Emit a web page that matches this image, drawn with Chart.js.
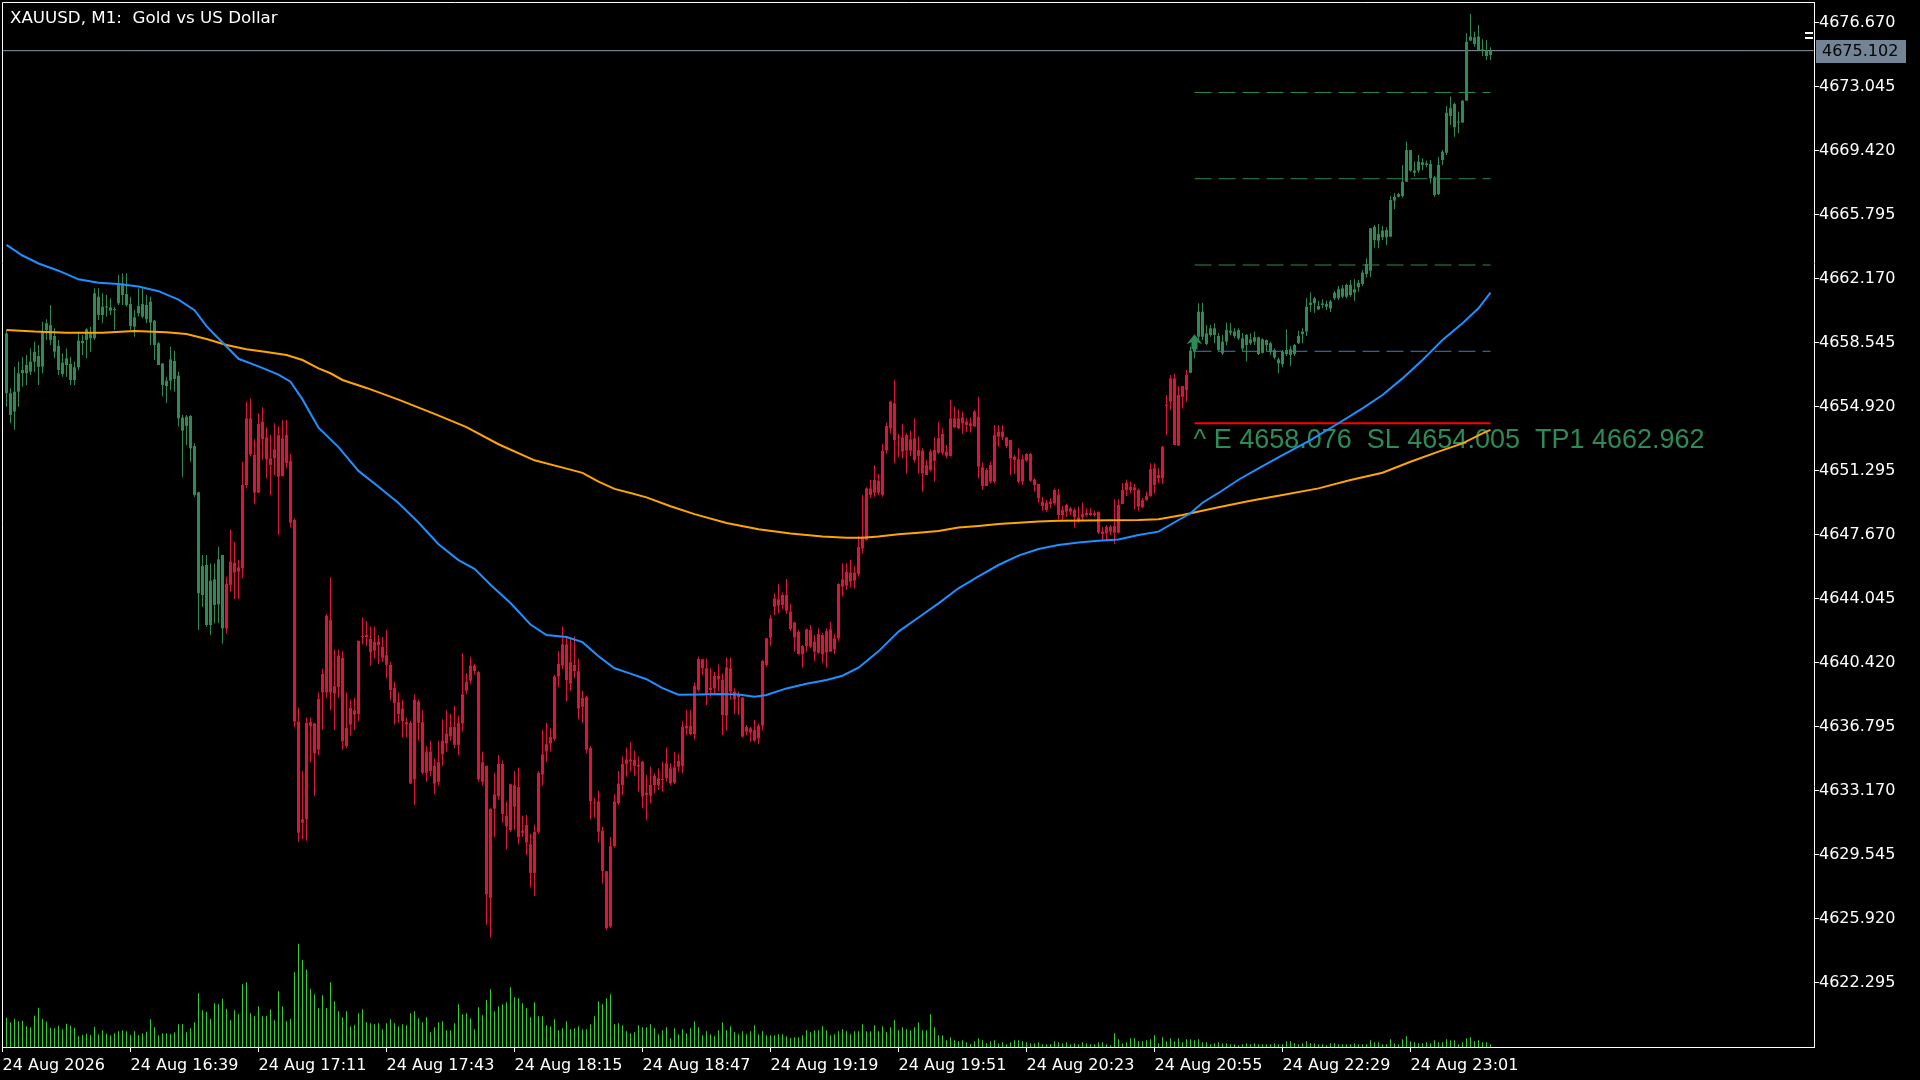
<!DOCTYPE html>
<html>
<head>
<meta charset="utf-8">
<title>XAUUSD, M1</title>
<script src="https://cdn.jsdelivr.net/npm/chart.js@4.4.1/dist/chart.umd.min.js"></script>
<style>
html,body{margin:0;padding:0;background:#000;overflow:hidden;}
#wrap{position:relative;width:1920px;height:1080px;}
</style>
</head>
<body>
<div id="wrap"><canvas id="xauChart"></canvas></div>
<script>
// ======================================
// XAUUSD M1 - CHART DATA
// ======================================

const chartTitle = "XAUUSD, M1:  Gold vs US Dollar";

const timeLabels = ["24 Aug 2026","24 Aug 16:39","24 Aug 17:11","24 Aug 17:43","24 Aug 18:15","24 Aug 18:47",
    "24 Aug 19:19","24 Aug 19:51","24 Aug 20:23","24 Aug 20:55","24 Aug 22:29","24 Aug 23:01"];
const timeLabelBars = [0,32,64,96,128,160,192,224,256,288,320,352];

const priceTicks = [4676.670,4673.045,4669.420,4665.795,4662.170,4658.545,4654.920,4651.295,
    4647.670,4644.045,4640.420,4636.795,4633.170,4629.545,4625.920,4622.295];

const openP = [
4659.09,4655.70,4654.66,4655.79,4656.83,4656.83,4656.92,4657.49,4657.81,4657.20,
4659.28,4659.56,4658.94,4658.38,4656.79,4657.30,4657.36,4656.45,4657.17,4658.53,
4658.72,4659.09,4658.81,4661.17,4660.13,4660.62,4660.56,4660.41,4660.79,4661.92,
4661.32,4660.75,4659.47,4660.23,4660.75,4659.89,4660.89,4659.81,4658.53,4657.39,
4656.11,4656.41,4657.53,4656.70,4654.32,4653.85,4654.41,4652.71,4650.09,4644.27,
4645.97,4642.57,4645.16,4643.74,4646.54,4642.38,4644.84,4646.10,4645.59,4645.78,
4650.50,4654.28,4652.20,4650.07,4654.09,4653.20,4652.01,4652.01,4650.97,4653.14,
4651.73,4651.86,4648.52,4637.10,4631.37,4631.57,4637.07,4637.00,4635.51,4638.75,
4638.75,4642.86,4638.69,4639.05,4640.71,4635.72,4636.93,4637.74,4637.53,4641.89,
4641.89,4641.78,4641.12,4641.44,4641.34,4640.87,4640.31,4639.01,4638.20,4637.84,
4637.07,4637.03,4633.83,4638.24,4637.07,4634.20,4635.41,4634.60,4633.69,4635.25,
4635.86,4636.26,4636.79,4635.78,4636.99,4638.85,4639.42,4640.27,4639.90,4633.69,
4634.60,4627.12,4632.17,4632.88,4634.70,4631.77,4630.96,4633.49,4633.39,4630.80,
4631.26,4630.15,4628.53,4630.86,4634.10,4635.41,4635.86,4636.12,4639.66,4640.27,
4641.48,4639.25,4640.31,4639.96,4637.94,4638.49,4635.61,4632.52,4632.58,4630.92,
4628.63,4625.50,4630.05,4632.48,4633.49,4634.70,4634.96,4634.59,4634.64,4634.83,
4632.94,4633.51,4633.51,4633.89,4633.80,4633.89,4634.45,4633.64,4634.55,4634.59,
4636.72,4636.87,4636.38,4638.89,4640.63,4640.12,4638.89,4638.98,4639.68,4639.46,
4637.44,4640.12,4638.80,4638.48,4638.46,4636.53,4636.72,4636.63,4636.15,4636.87,
4640.31,4641.85,4643.61,4644.03,4643.70,4644.27,4643.33,4642.72,4642.19,4640.91,
4641.38,4642.29,4641.63,4641.00,4642.00,4641.00,4642.33,4641.19,4641.82,4644.74,
4644.80,4645.54,4645.08,4645.46,4646.91,4647.39,4650.31,4650.07,4650.75,4649.94,
4652.45,4653.71,4655.13,4653.15,4653.20,4652.45,4653.09,4651.92,4652.49,4652.45,
4651.07,4651.35,4652.49,4652.33,4653.39,4652.39,4652.15,4654.28,4653.71,4654.33,
4653.90,4654.00,4653.81,4654.37,4651.50,4650.45,4651.63,4650.69,4653.24,4653.52,
4653.20,4653.05,4652.11,4651.96,4650.69,4651.88,4652.26,4650.82,4650.56,4649.56,
4649.09,4649.43,4649.46,4649.94,4648.80,4648.99,4649.18,4649.09,4648.67,4648.67,
4648.80,4648.93,4648.80,4648.99,4647.86,4647.76,4648.14,4647.80,4647.80,4649.43,
4650.22,4650.41,4650.22,4650.22,4649.24,4649.65,4649.88,4651.45,4650.88,4650.88,
4654.98,4655.22,4656.54,4652.73,4655.50,4655.88,4656.86,4658.05,4658.90,4660.32,
4658.49,4659.00,4659.38,4658.94,4657.96,4658.62,4659.24,4659.19,4658.81,4658.81,
4658.43,4658.75,4658.62,4658.87,4657.99,4658.71,4658.53,4658.15,4657.62,4657.35,
4658.15,4657.86,4657.92,4658.53,4659.05,4659.19,4660.70,4660.79,4660.64,4660.70,
4660.75,4660.50,4661.08,4661.08,4661.64,4661.17,4661.83,4661.40,4661.70,4661.89,
4662.45,4662.64,4665.13,4664.34,4664.53,4664.94,4664.57,4666.61,4666.83,4666.87,
4667.68,4669.48,4668.31,4668.31,4668.78,4668.63,4668.68,4667.93,4666.98,4668.91,
4669.32,4671.40,4672.08,4671.03,4671.03,4672.27,4675.67,4675.86,4675.14,4675.18,
4675.10,4674.86];

const highP = [
4659.28,4655.98,4657.20,4657.49,4657.77,4657.86,4658.24,4658.62,4658.43,4659.75,
4659.89,4660.70,4659.38,4658.72,4657.96,4658.24,4657.77,4657.49,4659.19,4659.00,
4659.38,4659.47,4661.64,4661.64,4661.36,4661.26,4661.08,4660.60,4662.40,4662.49,
4662.49,4661.17,4660.41,4661.64,4661.64,4661.26,4661.17,4659.85,4658.62,4657.39,
4656.64,4658.34,4658.11,4656.92,4654.47,4654.47,4654.47,4652.86,4650.12,4646.54,
4646.54,4646.06,4646.06,4647.01,4646.54,4645.31,4647.99,4647.29,4646.25,4651.82,
4655.22,4655.41,4653.09,4654.56,4654.90,4653.77,4653.33,4654.00,4653.81,4654.18,
4654.18,4652.26,4648.60,4637.90,4634.30,4637.33,4637.33,4637.03,4638.75,4640.10,
4643.20,4645.28,4641.18,4641.18,4641.08,4638.75,4638.34,4638.45,4641.68,4643.00,
4642.80,4642.49,4642.49,4641.99,4641.89,4642.29,4640.47,4639.36,4638.75,4638.34,
4637.33,4637.13,4638.65,4638.34,4637.74,4635.71,4636.02,4635.01,4636.02,4637.23,
4637.74,4637.53,4638.00,4637.43,4640.97,4639.86,4640.77,4640.37,4639.96,4635.41,
4634.60,4632.17,4634.20,4635.21,4634.90,4632.58,4633.59,4634.30,4634.50,4631.77,
4631.81,4630.76,4631.26,4634.30,4636.63,4637.03,4636.73,4639.76,4641.08,4642.49,
4641.89,4641.78,4641.93,4640.67,4638.85,4638.55,4635.71,4632.78,4633.18,4631.16,
4628.63,4630.56,4632.98,4634.30,4635.12,4635.64,4635.96,4635.45,4635.12,4634.89,
4634.08,4634.55,4634.17,4634.45,4634.83,4635.64,4634.74,4635.40,4635.26,4637.10,
4637.76,4637.76,4639.31,4640.78,4640.68,4640.68,4640.12,4639.93,4640.34,4639.84,
4640.74,4640.74,4638.99,4638.80,4638.51,4636.91,4636.81,4637.19,4637.00,4640.59,
4641.82,4643.14,4644.37,4644.89,4644.42,4645.18,4643.76,4642.76,4642.29,4641.44,
4642.38,4642.57,4642.01,4642.38,4642.14,4642.38,4642.76,4642.06,4644.93,4646.07,
4646.07,4646.25,4645.91,4647.60,4649.94,4650.37,4650.79,4651.64,4651.13,4652.82,
4654.03,4655.28,4656.45,4653.39,4653.96,4653.43,4653.58,4654.28,4653.24,4652.58,
4651.92,4652.52,4653.20,4654.09,4653.71,4652.77,4655.35,4654.94,4654.79,4654.66,
4654.28,4654.33,4654.75,4655.50,4651.77,4651.45,4651.82,4653.90,4653.90,4653.90,
4653.24,4653.05,4652.20,4652.58,4652.20,4652.30,4652.33,4650.88,4650.56,4649.84,
4649.65,4649.75,4650.31,4650.26,4649.31,4649.43,4649.27,4649.18,4649.27,4649.50,
4649.18,4649.18,4649.05,4648.99,4648.14,4648.24,4648.24,4649.69,4649.69,4650.60,
4650.82,4650.69,4650.56,4650.31,4649.75,4650.12,4651.73,4651.73,4651.45,4652.71,
4655.60,4656.73,4656.79,4656.11,4656.11,4657.02,4658.34,4659.00,4660.79,4660.83,
4659.56,4659.56,4659.66,4659.09,4659.00,4659.70,4659.66,4659.38,4659.38,4659.09,
4659.05,4659.09,4659.19,4658.90,4658.81,4658.75,4658.62,4658.24,4657.73,4658.15,
4659.32,4658.38,4658.49,4659.24,4659.38,4661.08,4661.40,4661.17,4660.94,4661.02,
4660.94,4661.00,4661.51,4661.77,4661.83,4661.92,4662.11,4662.15,4662.11,4662.68,
4663.34,4665.04,4665.23,4665.28,4665.17,4665.10,4666.87,4667.02,4667.06,4668.63,
4669.95,4669.48,4668.82,4669.20,4669.01,4668.87,4668.91,4668.00,4669.10,4669.48,
4671.97,4672.50,4672.16,4671.65,4672.31,4676.09,4677.18,4676.18,4676.56,4675.75,
4675.71,4675.29];

const lowP = [
4654.94,4654.00,4653.62,4654.94,4656.07,4656.17,4656.73,4656.92,4656.17,4656.83,
4658.72,4658.43,4657.68,4656.73,4656.64,4656.64,4656.17,4656.17,4657.02,4657.86,
4657.68,4658.05,4658.72,4659.85,4659.66,4660.04,4660.13,4659.28,4660.70,4660.70,
4660.60,4659.28,4658.90,4660.04,4659.94,4659.66,4658.43,4657.58,4657.30,4655.51,
4655.13,4655.88,4655.79,4653.81,4650.97,4652.77,4651.82,4649.84,4642.29,4643.61,
4642.48,4642.01,4642.67,4642.67,4641.53,4642.10,4644.46,4644.03,4644.03,4645.22,
4650.31,4652.11,4649.41,4650.03,4651.92,4650.88,4649.94,4651.07,4647.67,4650.97,
4651.45,4648.10,4636.80,4630.28,4630.45,4630.35,4634.80,4632.88,4635.21,4636.63,
4638.45,4637.74,4636.63,4638.45,4635.51,4635.61,4636.32,4636.63,4637.13,4641.48,
4641.38,4640.27,4640.67,4640.37,4640.47,4639.56,4638.30,4636.93,4637.03,4636.22,
4636.22,4633.59,4632.38,4636.02,4634.10,4633.69,4634.00,4632.98,4633.49,4634.60,
4635.41,4636.02,4635.61,4635.21,4636.52,4638.65,4639.25,4639.76,4633.69,4633.49,
4625.60,4624.89,4630.56,4632.68,4631.37,4629.85,4630.86,4630.96,4630.15,4630.56,
4629.54,4627.72,4627.22,4630.76,4633.49,4634.80,4635.41,4636.02,4639.05,4640.06,
4638.24,4638.85,4639.56,4637.23,4637.03,4635.31,4631.57,4631.67,4630.25,4627.93,
4625.30,4625.40,4629.95,4632.38,4632.94,4633.98,4634.27,4634.02,4633.13,4632.19,
4631.53,4632.47,4633.04,4633.23,4633.13,4633.70,4633.51,4633.57,4634.27,4634.17,
4636.34,4636.34,4636.10,4638.80,4639.74,4638.04,4638.51,4638.61,4638.80,4636.34,
4636.59,4638.32,4637.53,4637.47,4636.21,4636.34,4635.96,4635.96,4635.83,4636.59,
4640.21,4641.40,4643.14,4643.23,4643.46,4643.20,4642.25,4641.06,4640.87,4640.17,
4641.06,4641.25,4640.55,4640.93,4640.40,4640.17,4641.06,4640.91,4641.68,4644.18,
4644.55,4644.71,4644.65,4645.30,4646.63,4647.35,4649.75,4649.84,4649.94,4649.84,
4652.26,4653.43,4651.73,4652.07,4652.01,4651.16,4652.14,4651.77,4651.16,4650.12,
4651.07,4651.26,4650.69,4652.26,4652.20,4652.01,4652.11,4653.71,4653.66,4653.39,
4653.52,4653.47,4653.81,4650.88,4650.22,4650.45,4650.60,4650.60,4652.67,4653.05,
4652.58,4651.07,4651.13,4650.60,4650.50,4651.82,4650.69,4650.12,4649.50,4649.05,
4648.99,4649.18,4649.37,4648.56,4648.52,4648.71,4648.80,4648.10,4648.37,4648.48,
4648.71,4648.75,4648.71,4647.73,4647.39,4647.39,4647.67,4647.16,4647.76,4649.43,
4649.88,4650.03,4649.12,4649.05,4649.18,4649.61,4649.84,4650.03,4650.60,4650.56,
4653.33,4654.75,4652.77,4652.73,4654.84,4655.22,4656.83,4657.68,4658.71,4658.71,
4658.43,4658.90,4658.53,4658.05,4657.86,4658.43,4658.98,4658.81,4658.71,4658.05,
4657.49,4658.43,4658.43,4657.86,4657.96,4658.05,4657.86,4657.62,4656.83,4657.17,
4657.81,4657.24,4657.81,4658.49,4658.53,4658.94,4660.32,4660.26,4660.41,4660.51,
4660.41,4660.30,4660.98,4660.98,4661.08,4661.08,4661.17,4660.94,4661.45,4661.77,
4662.26,4662.30,4663.96,4663.91,4664.38,4664.10,4664.53,4666.12,4666.79,4666.79,
4667.68,4668.25,4667.97,4668.19,4668.34,4668.50,4667.59,4666.83,4666.93,4668.63,
4669.20,4670.89,4670.23,4670.42,4671.03,4672.27,4675.67,4675.33,4675.10,4674.80,
4674.57,4674.57];

const closeP = [
4655.70,4654.47,4655.79,4656.83,4657.02,4657.30,4657.49,4658.05,4657.20,4659.19,
4659.66,4658.72,4658.05,4657.02,4657.43,4657.68,4656.45,4657.17,4658.68,4658.66,
4659.32,4658.81,4661.36,4660.13,4660.60,4660.56,4660.38,4660.45,4661.83,4661.26,
4660.70,4659.51,4660.00,4660.64,4660.04,4660.70,4659.70,4658.43,4657.30,4656.17,
4656.41,4657.62,4656.51,4654.28,4653.58,4654.37,4652.58,4649.94,4644.37,4645.91,
4642.57,4645.08,4643.71,4646.29,4642.38,4644.89,4646.16,4645.54,4645.84,4650.50,
4654.28,4652.24,4650.07,4653.96,4653.09,4651.96,4651.64,4652.52,4653.33,4651.01,
4653.33,4648.37,4637.10,4630.80,4631.57,4637.03,4636.83,4635.31,4638.38,4639.80,
4643.10,4638.75,4639.11,4640.83,4635.98,4636.73,4637.88,4637.49,4641.68,4641.95,
4642.01,4641.03,4641.62,4641.64,4640.71,4640.31,4638.89,4638.14,4637.53,4637.13,
4636.93,4633.59,4638.34,4637.03,4634.20,4635.37,4634.30,4633.59,4634.80,4636.02,
4636.42,4636.79,4635.78,4637.03,4638.65,4639.36,4640.27,4639.96,4633.83,4634.80,
4627.32,4632.17,4632.98,4634.70,4631.87,4631.16,4633.55,4632.28,4630.56,4630.92,
4630.25,4628.53,4630.86,4634.20,4635.25,4635.82,4636.22,4639.66,4640.37,4641.48,
4639.46,4640.47,4639.96,4637.84,4638.45,4635.51,4632.58,4632.46,4630.86,4628.63,
4625.40,4630.05,4632.58,4633.59,4634.70,4634.96,4634.83,4634.93,4634.55,4632.85,
4633.08,4632.89,4634.02,4633.51,4633.85,4634.74,4633.60,4634.51,4634.87,4636.81,
4636.87,4636.40,4639.12,4640.65,4640.12,4638.61,4639.02,4639.68,4639.49,4637.47,
4640.17,4638.80,4638.36,4638.61,4636.25,4636.81,4636.49,4636.02,4636.87,4640.53,
4641.82,4642.95,4644.08,4643.67,4644.27,4643.38,4642.35,4641.87,4640.93,4641.38,
4642.33,4641.35,4641.06,4642.06,4640.91,4642.23,4641.06,4641.82,4644.89,4645.16,
4645.59,4645.03,4645.54,4647.00,4647.58,4650.31,4649.94,4650.79,4650.07,4652.45,
4653.84,4655.22,4653.05,4653.20,4652.39,4653.33,4652.45,4653.15,4652.15,4651.16,
4651.63,4652.39,4651.88,4653.15,4652.33,4652.15,4654.28,4653.77,4654.28,4653.99,
4654.09,4653.84,4654.66,4651.54,4650.45,4651.35,4650.69,4653.33,4653.52,4653.20,
4652.71,4652.01,4651.92,4650.69,4651.96,4652.26,4650.75,4650.50,4649.75,4649.31,
4649.50,4649.56,4650.22,4648.80,4649.09,4649.37,4648.99,4648.67,4648.43,4648.86,
4648.93,4648.80,4648.90,4647.80,4647.73,4648.14,4647.86,4648.18,4649.37,4650.22,
4650.63,4650.22,4650.37,4649.28,4649.65,4649.88,4651.40,4650.50,4651.07,4652.67,
4655.05,4656.54,4652.77,4655.60,4656.11,4656.73,4658.11,4658.43,4660.32,4658.90,
4659.09,4659.38,4659.00,4658.15,4658.62,4659.28,4659.13,4658.94,4659.28,4658.24,
4659.00,4658.53,4658.87,4657.92,4658.75,4658.43,4658.05,4657.73,4657.39,4658.05,
4657.92,4658.19,4658.43,4658.94,4659.19,4660.60,4660.83,4661.07,4660.45,4660.79,
4660.60,4660.90,4661.40,4661.59,4661.17,4661.83,4661.26,4661.59,4661.96,4662.53,
4663.02,4665.04,4664.38,4664.72,4664.91,4664.53,4666.64,4666.83,4666.98,4667.68,
4669.48,4668.31,4668.19,4668.82,4668.63,4668.72,4667.87,4666.93,4668.63,4669.38,
4671.59,4671.84,4670.76,4671.08,4672.27,4675.61,4675.90,4675.48,4675.90,4675.10,
4674.80,4675.10];

// tick volume
const volumes = [
293,247,283,257,263,207,197,313,393,283, 253,193,187,213,177,233,213,193,107,123,
133,123,203,127,167,133,117,137,157,167, 157,123,157,117,137,153,277,197,117,137,
137,127,147,227,227,147,187,247,537,367, 353,283,437,427,483,383,267,367,327,627,
647,337,307,407,307,313,377,267,557,407, 257,283,747,1033,873,773,583,527,387,517,
387,647,457,357,297,357,207,217,337,377, 247,237,227,237,177,237,277,237,207,227,
217,337,357,287,247,297,147,197,247,257, 167,167,237,427,327,337,287,177,397,317,
470,577,357,407,427,447,597,497,487,437, 387,297,447,307,307,217,207,277,167,187,
257,177,187,207,177,177,227,307,457,427, 487,527,227,237,217,157,137,147,217,197,
197,227,187,127,167,197,87,187,127,177, 137,187,257,197,117,157,127,107,167,247,
167,207,147,127,157,127,157,217,127,
157,117,117,117,127,127,107,87,97,97, 117,167,147,167,167,207,167,117,127,157,
177,157,127,157,157,227,157,157,217,157, 207,147,197,267,167,197,177,167,197,247,
167,167,327,197,117,117,67,97,67,57, 67,47,27,57,87,67,37,57,67,37,
47,27,47,67,67,57,47,37,37,47, 27,27,27,57,47,37,47,27,37,27,
47,37,27,27,47,47,27,17,137,77, 37,47,87,87,57,57,67,77,117,37,
97,57,87,57,87,47,77,77,67,77, 47,47,27,37,47,37,37,27,27,17,
27,37,27,37,27,27,27,27,37,27, 27,57,57,37,27,37,57,37,37,27,
27,17,37,37,27,27,27,27,37,27, 27,27,67,47,47,27,27,77,37,27,
77,107,57,47,37,37,47,37,67,47, 47,77,67,67,27,47,87,97,57,67,
47,47,27];

// moving averages (read at these bars)
const fastMaBars = [0,4,8,13,18,23,28,33,38,43,47,50,53,58,63,68,71,74,78,83,88,93,98,103,108,113,117,121,126,131,
    135,140,144,148,152,156,160,164,168,173,178,183,187,190,195,200,205,209,213,218,223,228,233,238,243,248,253,258,263,268,
    273,278,283,288,293,296,299,303,308,313,319,326,333,339,344,349,354,359,364,368,371];
const fastMaVals = [4664.10,4663.50,4663.05,4662.64,4662.15,4661.96,4661.89,4661.75,4661.48,4661.00,4660.40,4659.50,4658.80,4657.65,4657.22,
    4656.75,4656.35,4655.35,4653.75,4652.65,4651.30,4650.40,4649.48,4648.38,4647.15,4646.25,4645.75,4644.85,4643.82,4642.60,
    4642.00,4641.89,4641.60,4640.80,4640.12,4639.82,4639.50,4639.00,4638.62,4638.63,4638.66,4638.64,4638.51,4638.61,4638.98,
    4639.25,4639.46,4639.70,4640.15,4641.08,4642.20,4643.00,4643.80,4644.65,4645.33,4645.97,4646.50,4646.88,4647.10,4647.24,
    4647.35,4647.42,4647.67,4647.86,4648.52,4648.90,4649.50,4650.05,4650.80,4651.45,4652.20,4653.05,4654.00,4654.84,4655.60,
    4656.54,4657.58,4658.71,4659.66,4660.51,4661.40];

const slowMaBars = [0,7,15,24,32,40,45,50,55,60,65,70,74,78,81,84,90,98,107,115,123,132,140,144,148,152,156,160,166,172,
    180,188,196,204,210,214,218,223,228,233,238,243,248,253,258,263,283,288,294,303,311,319,328,336,344,351,358,364,369,371];
const slowMaVals = [4659.28,4659.19,4659.13,4659.13,4659.22,4659.15,4659.05,4658.77,4658.43,4658.19,4658.03,4657.86,4657.58,4657.11,4656.83,
    4656.45,4656.00,4655.34,4654.53,4653.78,4652.81,4651.90,4651.43,4651.19,4650.69,4650.28,4650.05,4649.80,4649.30,4648.85,
    4648.35,4648.00,4647.75,4647.58,4647.52,4647.52,4647.58,4647.71,4647.80,4647.90,4648.09,4648.18,4648.29,4648.37,4648.44,
    4648.48,4648.52,4648.56,4648.80,4649.24,4649.61,4649.94,4650.31,4650.78,4651.20,4651.82,4652.39,4652.86,4653.43,4653.62];

// trade signal
const signalBar = 297;
const levelEndBar = 371;
const entryPrice = 4658.076;
const stopLoss = 4654.005;
const takeProfits = [4662.962, 4667.848, 4672.734];
const lastPrice = 4675.102;

// ======================================
// STYLE
// ======================================

const GREEN = "#2e8b57";
const RED = "#dc143c";
const redFrom = 55;
const greenFrom = 296;

const X_MIN = -1.125;
const X_MAX = 451.875;
const Y_MIN = 4618.670;
const Y_MAX = 4677.859;

function candleColor(i){
    return (i < redFrom || i >= greenFrom) ? GREEN : RED;
}

const bars = openP.map((v,i)=>i);
const colors = bars.map(candleColor);

// ======================================
// DATASETS
// ======================================

function levelLine(value, color, dash, width){
    return {
        type:"line",
        data:[{x:signalBar,y:value},{x:levelEndBar,y:value}],
        borderColor:color,
        borderDash:dash,
        borderWidth:width,
        pointRadius:0,
        yAxisID:"y"
    };
}

const datasets = [

    {
        type:"line",
        label:"MA fast",
        data:fastMaBars.map((b,k)=>({x:b,y:fastMaVals[k]})),
        borderColor:"#1e90ff",
        borderWidth:2,
        pointRadius:0,
        tension:0,
        yAxisID:"y"
    },

    {
        type:"line",
        label:"MA slow",
        data:slowMaBars.map((b,k)=>({x:b,y:slowMaVals[k]})),
        borderColor:"#ffa500",
        borderWidth:2,
        pointRadius:0,
        tension:0,
        yAxisID:"y"
    },

    {
        type:"bar",
        label:"body",
        data:bars.map(i=>({x:i,y:[openP[i],closeP[i]]})),
        backgroundColor:colors,
        barThickness:3,
        minBarLength:1,
        grouped:false,
        inflateAmount:0,
        yAxisID:"y"
    },

    {
        type:"bar",
        label:"wick",
        data:bars.map(i=>({x:i,y:[lowP[i],highP[i]]})),
        backgroundColor:colors,
        barThickness:1,
        grouped:false,
        inflateAmount:0,
        yAxisID:"y"
    },

    levelLine(takeProfits[2], "#2b8a4a", [17,7], 1),
    levelLine(takeProfits[1], "#2b8a4a", [17,7], 1),
    levelLine(takeProfits[0], "#2b8a4a", [17,7], 1),
    levelLine(entryPrice, "#2b82d0", [17,7], 1),
    levelLine(stopLoss, "#ff0000", [], 2),

    {
        type:"line",
        label:"price",
        data:[{x:X_MIN,y:lastPrice},{x:X_MAX,y:lastPrice}],
        borderColor:"#8a98a6",
        borderWidth:1,
        pointRadius:0,
        yAxisID:"y"
    },

    {
        type:"bar",
        label:"volume",
        data:bars.map(i=>({x:i,y:volumes[i]})),
        backgroundColor:"#32cd32",
        barThickness:1,
        grouped:false,
        inflateAmount:0,
        yAxisID:"yv"
    }

];

// ======================================
// OVERLAY (title, frame, labels, arrow)
// ======================================

const overlay = {

    id:"overlay",

    beforeDatasetsDraw(chart){

        const c = chart.ctx;
        const xs = chart.scales.x;
        const ys = chart.scales.y;

        c.save();
        c.font = '27px "Liberation Sans", Arial, sans-serif';
        c.fillStyle = GREEN;
        c.textBaseline = "alphabetic";
        c.fillText(
            "^ E " + entryPrice.toFixed(3) +
            "  SL " + stopLoss.toFixed(3) +
            "  TP1 " + takeProfits[0].toFixed(3),
            xs.getPixelForValue(signalBar) - 1,
            ys.getPixelForValue(stopLoss) + 25
        );
        c.restore();

    },

    afterDatasetsDraw(chart){

        const c = chart.ctx;
        const cx = chart.scales.x.getPixelForValue(signalBar);
        const by = chart.scales.y.getPixelForValue(entryPrice) - 2;

        c.save();
        c.fillStyle = GREEN;
        c.beginPath();
        c.moveTo(cx, by - 15);
        c.lineTo(cx + 8, by - 5);
        c.lineTo(cx + 3, by - 7);
        c.lineTo(cx + 3, by);
        c.lineTo(cx - 3, by);
        c.lineTo(cx - 3, by - 7);
        c.lineTo(cx - 8, by - 5);
        c.closePath();
        c.fill();
        c.restore();

    },

    afterDraw(chart){

        const c = chart.ctx;
        const a = chart.chartArea;
        const ys = chart.scales.y;

        c.save();

        // frame
        c.strokeStyle = "#fff";
        c.lineWidth = 1;
        c.beginPath();
        c.moveTo(a.left + 0.5, a.bottom);
        c.lineTo(a.left + 0.5, a.top + 0.5);
        c.lineTo(a.right, a.top + 0.5);
        c.stroke();

        // title
        c.font = '16.7px "DejaVu Sans", sans-serif';
        c.fillStyle = "#fff";
        c.textBaseline = "alphabetic";
        c.fillText(chartTitle, 10, 22.7);

        // shift marker
        c.fillRect(a.right - 9, 32, 8, 2);
        c.fillRect(a.right - 9, 37, 8, 2);

        // last price box
        const py = ys.getPixelForValue(lastPrice);
        c.fillStyle = "#738496";
        c.fillRect(a.right + 2, Math.round(py) - 11, 90, 23);
        c.fillStyle = "#000";
        c.font = '16px "DejaVu Sans", sans-serif';
        c.textBaseline = "middle";
        c.fillText(lastPrice.toFixed(3), a.right + 8, Math.round(py) + 1);

        c.restore();

    }

};

// ======================================
// CHART
// ======================================

const ctx = document
.getElementById("xauChart")
.getContext("2d");

const tickFont = {family:"DejaVu Sans", size:16};

const chart = new Chart(ctx,{

    type:"bar",

    data:{datasets:datasets},

    options:{

        responsive:true,
        maintainAspectRatio:false,
        animation:false,
        devicePixelRatio:1,
        events:[],

        layout:{padding:{left:2,top:2,right:0,bottom:0}},

        plugins:{
            legend:{display:false},
            tooltip:{enabled:false}
        },

        scales:{

            x:{
                type:"linear",
                min:X_MIN,
                max:X_MAX,
                offset:false,
                grid:{drawOnChartArea:false, tickLength:5, color:"#fff", offset:false},
                border:{color:"#fff"},
                ticks:{
                    color:"#fff",
                    font:tickFont,
                    align:"start",
                    maxRotation:0,
                    autoSkip:false,
                    padding:4,
                    callback:(v,i)=>timeLabels[i]
                },
                afterBuildTicks:s=>{ s.ticks = timeLabelBars.map(b=>({value:b-1})); },
                afterFit:s=>{ s.height = 33; s.paddingLeft = 0; s.paddingRight = 0; }
            },

            y:{
                type:"linear",
                position:"right",
                min:Y_MIN,
                max:Y_MAX,
                beginAtZero:false,
                grid:{drawOnChartArea:false, tickLength:5, color:"#fff"},
                border:{color:"#fff"},
                ticks:{
                    color:"#fff",
                    font:tickFont,
                    padding:0,
                    autoSkip:false,
                    callback:v=>Number(v).toFixed(3)
                },
                afterBuildTicks:s=>{ s.ticks = priceTicks.slice().reverse().map(v=>({value:v})); },
                afterFit:s=>{ s.width = 106; s.paddingTop = 0; s.paddingBottom = 0; }
            },

            yv:{
                type:"linear",
                display:false,
                min:0,
                max:10450
            }

        }

    },

    plugins:[overlay]

});
</script>
</body>
</html>
